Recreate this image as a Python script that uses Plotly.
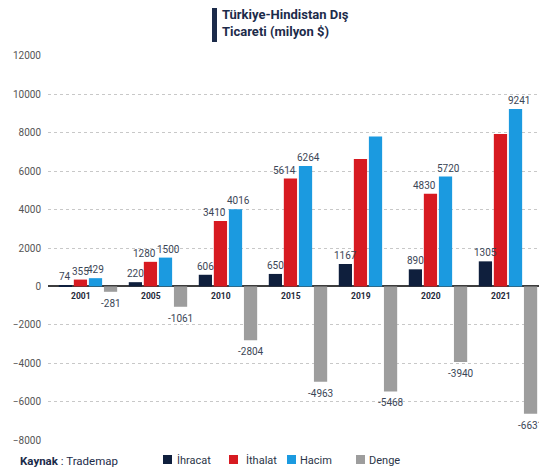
import plotly.graph_objects as go

years = ["2001", "2005", "2010", "2015", "2019", "2020", "2021"]
ihracat = [74, 220, 606, 650, 1167, 890, 1305]
ithalat = [355, 1280, 3410, 5614, 6635, 4830, 7936]
hacim = [429, 1500, 4016, 6264, 7802, 5720, 9241]
denge = [-281, -1061, -2804, -4963, -5468, -3940, -6631]

ihracat_lbl = ["74", "220", "606", "650", "1167", "890", "1305"]
ithalat_lbl = ["355", "1280", "3410", "5614", "", "4830", ""]
hacim_lbl = ["429", "1500", "4016", "6264", "", "5720", "9241"]
denge_lbl = ["-281", "-1061", "-2804", "-4963", "-5468", "-3940", "-6631"]

series = [
    ("İhracat", ihracat, ihracat_lbl, "#0f1f3d"),
    ("İthalat", ithalat, ithalat_lbl, "#d71a21"),
    ("Hacim", hacim, hacim_lbl, "#1b9ae0"),
    ("Denge", denge, denge_lbl, "#9d9d9d"),
]
# small horizontal nudges of 4-digit labels (as in the reference layout)
label_nudge = [0, -6, 3, 0]

FONT = "Roboto"
BARGAP = 0.14
BARGROUPGAP = 0.12

# plot-area geometry in pixels (for paper-coordinate conversions)
W, H = 539, 474
ML, MR, MT, MB = 48, 0, 55, 33
PW, PH = W - ML - MR, H - MT - MB


def px(xp):
    return (xp - ML) / PW


def py(yp):
    return (H - MB - yp) / PH


xs = list(range(len(years)))
fig = go.Figure()
for name, vals, lbl, col in series:
    fig.add_trace(go.Bar(
        x=xs, y=vals, name=name, marker=dict(color=col, line=dict(width=0)),
        showlegend=False, hoverinfo="x+y+name",
    ))

# data labels anchored on each bar's centre (slot centre derived from bar gaps)
n = len(series)
slot = (1 - BARGAP) / n
for k, (name, vals, lbl, col) in enumerate(series):
    off = -(1 - BARGAP) / 2 + slot * (k + 0.5)
    for i, (v, t) in enumerate(zip(vals, lbl)):
        if not t:
            continue
        pos = v >= 0
        fig.add_annotation(
            x=i + off, y=v, xref="x", yref="y", text=t, showarrow=False,
            yanchor="bottom" if pos else "top", yshift=1 if pos else -4,
            xshift=label_nudge[k] if len(t.lstrip("-")) >= 4 else 0,
            font=dict(family=FONT, size=10, color="#3b4656"),
        )

for i, yr in enumerate(years):
    fig.add_annotation(x=i - 0.1, y=0, xref="x", yref="y", text="<b>" + yr + "</b>",
                       showarrow=False, yanchor="top", yshift=-3,
                       font=dict(family=FONT, size=8.5, color="#1e2838"))

# Title with vertical bar
fig.add_shape(type="rect", xref="paper", yref="paper",
              x0=px(212), x1=px(217), y0=py(42), y1=py(8),
              fillcolor="#1c2b4a", line=dict(width=0))
fig.add_annotation(xref="paper", yref="paper", x=px(220), y=py(5),
                   xanchor="left", yanchor="top", align="left", showarrow=False,
                   text="<b>Türkiye-Hindistan Dış<br>Ticareti (milyon $)</b>",
                   font=dict(family=FONT, size=13, color="#1c2b4a"))

fig.add_annotation(xref="paper", yref="paper", x=px(18), y=py(461),
                   xanchor="left", yanchor="middle", showarrow=False,
                   text="<b>Kaynak</b> : Trademap",
                   font=dict(family=FONT, size=11.5, color="#1c2b4a"))

# Legend entries: colour square + label
leg_sq = [163, 229, 287, 356]
leg_tx = [175, 244, 298, 367]
for (name, vals, lbl, col), sx, tx in zip(series, leg_sq, leg_tx):
    fig.add_shape(type="rect", xref="paper", yref="paper",
                  x0=px(sx), x1=px(sx + 9), y0=py(464), y1=py(455),
                  fillcolor=col, line=dict(width=0))
    fig.add_annotation(xref="paper", yref="paper", x=px(tx), y=py(460),
                       xanchor="left", yanchor="middle", showarrow=False,
                       text=name,
                       font=dict(family=FONT, size=11, color="#2a3547"))

fig.update_layout(
    width=W, height=H,
    margin=dict(l=ML, r=MR, t=MT, b=MB, autoexpand=False),
    paper_bgcolor="white", plot_bgcolor="white",
    barmode="group", bargap=BARGAP, bargroupgap=BARGROUPGAP,
    showlegend=False,
    xaxis=dict(range=[-0.571, 6.443], showticklabels=False, showgrid=False,
               zeroline=False, showline=False, automargin=False),
    yaxis=dict(range=[-8050, 12050], tickvals=list(range(-8000, 12001, 2000)),
               tickformat="d", automargin=False,
               showgrid=True, gridcolor="#c8c8c8", griddash="dot", gridwidth=1,
               zeroline=True, zerolinecolor="#3d3d3d", zerolinewidth=2,
               tickfont=dict(family=FONT, size=10, color="#555"),
               ticks="", ticklabelstandoff=6),
)

fig.write_html("out.html", config={"displayModeBar": False},
               post_script="document.body.style.margin='0';document.body.style.overflow='hidden';")
